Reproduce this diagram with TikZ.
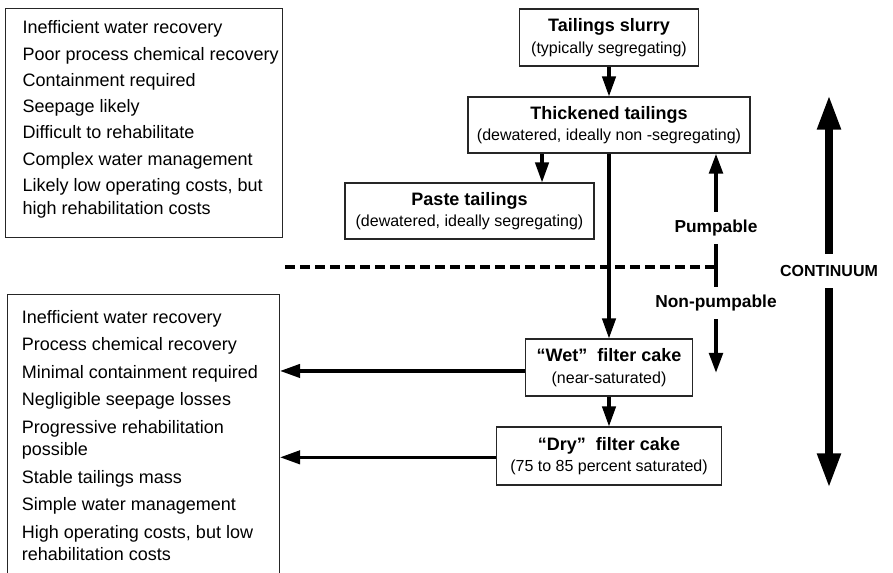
\documentclass[tikz,border=0pt]{standalone}
\usepackage{fontspec}
\setmainfont{Liberation Sans}
\usetikzlibrary{arrows.meta}
\def\subline#1{{\fontsize{12}{14}\selectfont #1}}

\begin{document}
\begin{tikzpicture}[x=0.75pt,y=-0.75pt,
  stagebox/.style={draw=black!85,line width=0.8pt,align=center,font=\fontsize{13.5}{16}\selectfont},
  listbox/.style={draw=black!85,line width=0.8pt,anchor=north west},
  listtext/.style={align=left,inner sep=0pt,anchor=north west,font=\fontsize{13.5}{17}\selectfont},
  sidelabel/.style={font=\bfseries\fontsize{13}{15}\selectfont,inner xsep=0pt,inner ysep=6pt},
  arr/.style={line width=2.4pt,-{Triangle[length=15pt,width=10pt]}},
  pumpline/.style={line width=3pt},
  pumparr/.style={line width=3pt,-{Triangle[length=15pt,width=10pt]}},
  bigarr/.style={line width=6pt,-{Triangle[length=26pt,width=16.5pt]}}]
\useasboundingbox (0,0) rectangle (893,573);
% lists
\node[listbox,minimum width=207.75pt,minimum height=171.75pt] (slurrylist) at (5,8) {};
\node[listtext] (slurrytext) at ([xshift=13pt,yshift=-9.4pt]slurrylist.north west)
  {Inefficient water recovery\\[2.7pt] Poor process chemical recovery\\[2.7pt]
   Containment required\\[2.7pt] Seepage likely\\[2.7pt] Difficult to rehabilitate\\[2.7pt]
   Complex water management\\[2.7pt] Likely low operating costs, but\\ high rehabilitation costs};
\node[listbox,minimum width=204pt,minimum height=219pt] (cakelist) at (7,294) {};
\node[listtext] (caketext) at ([xshift=11pt,yshift=-12pt]cakelist.north west)
  {Inefficient water recovery\\[3.6pt] Process chemical recovery\\[3.6pt]
   Minimal containment required\\[3.6pt] Negligible seepage losses\\[3.6pt]
   Progressive rehabilitation\\ possible\\[3.6pt] Stable tailings mass\\[3.6pt]
   Simple water management\\[3.6pt] High operating costs, but low\\ rehabilitation costs};
% stages
\node[stagebox,minimum width=134.25pt,minimum height=42.75pt] (slurry) at (609,37.5)
  {\textbf{Tailings slurry}\\\subline{(typically segregating)}};
\node[stagebox,minimum width=211.5pt,minimum height=42pt] (thick) at (609,125)
  {\textbf{Thickened tailings}\\\subline{(dewatered, ideally non -segregating)}};
\node[stagebox,minimum width=186.75pt,minimum height=42pt] (paste) at (469.5,211)
  {\textbf{Paste tailings}\\\subline{(dewatered, ideally segregating)}};
\node[stagebox,minimum width=125.25pt,minimum height=42.75pt] (wet) at (609,367.5)
  {\textbf{“Wet”\ \ filter cake}\\\subline{(near-saturated)}};
\node[stagebox,minimum width=168.75pt,minimum height=43.5pt] (dry) at (609,456)
  {\textbf{“Dry”\ \ filter cake}\\\subline{(75 to 85 percent saturated)}};
\draw[arr] (slurry) -- (thick);
\draw[arr] ([xshift=54.4pt]paste.north |- thick.south) -- ([xshift=54.4pt]paste.north);
\draw[arr] (thick) -- (wet);
\draw[arr] (wet) -- (dry);
\coordinate (wetout) at ([yshift=-2.6pt]wet.west);
\coordinate (dryout) at ([yshift=-1pt]dry.west);
\draw[arr] (wetout) -- (wetout -| cakelist.east);
\draw[arr] (dryout) -- (dryout -| cakelist.east);
% pumpable / non-pumpable
\node[sidelabel] (pump) at (716,228) {Pumpable};
\node[sidelabel] (nonpump) at (716,303) {Non-pumpable};
\coordinate (pumpend) at (716,373);
\draw[pumparr] (pump.north) -- (pump.north |- thick.south);
\draw[pumpline] (pump.south) -- (nonpump.north);
\draw[pumparr] (nonpump.south) -- (pumpend);
\coordinate (divide) at (285,267);
\draw[line width=2.6pt,dash pattern=on 7.5pt off 3.75pt] (divide) -- (divide -| pump);
% continuum
\node[font=\bfseries\fontsize{12}{14}\selectfont,inner ysep=8.5pt] (cont) at (829,271) {CONTINUUM};
\coordinate (conttop) at (829,95);
\coordinate (contbot) at (829,488);
\draw[bigarr] (cont.north) -- (conttop);
\draw[bigarr] (cont.south) -- (contbot);
\end{tikzpicture}
\end{document}
